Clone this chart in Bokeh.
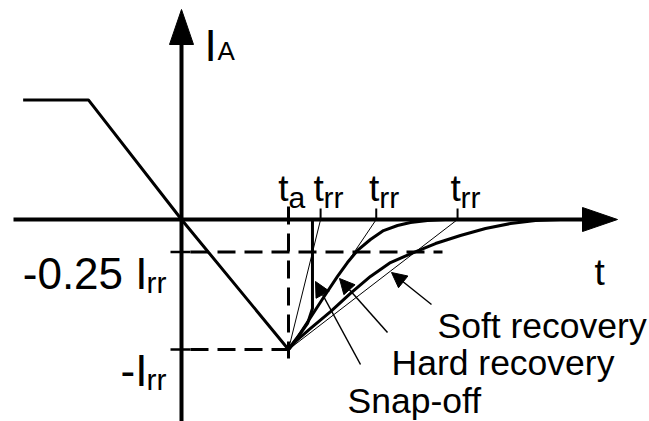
from bokeh.plotting import figure
from bokeh.models import Range1d, Arrow, NormalHead
from bokeh.core.properties import value
from bokeh.embed import file_html
from bokeh.resources import INLINE

# ---------------- data (time in units of t_a, current in units of I_rr) ----
t_a = 1.0
t_rr = [1.30, 1.82, 2.58]
I_levels = [-0.25, -1.0]
level_labels = ["-0.25 I", "-I"]

ramp_t = [-1.48, -0.87, 0.0, 1.0]
ramp_i = [0.92, 0.92, 0.0, -1.0]

soft_t = [1.000, 1.075, 1.206, 1.393, 1.579, 1.766, 1.953, 2.168, 2.374, 2.607, 2.841, 3.075, 3.308, 3.542]
soft_i = [-1.000, -0.931, -0.838, -0.708, -0.569, -0.438, -0.331, -0.254, -0.185, -0.123, -0.069, -0.031, -0.008, 0.0]

hard_t = [1.000, 1.084, 1.206, 1.327, 1.458, 1.551, 1.645, 1.766, 1.888, 2.019, 2.140, 2.299, 2.467]
hard_i = [-1.000, -0.908, -0.754, -0.600, -0.438, -0.331, -0.238, -0.154, -0.085, -0.046, -0.023, -0.008, 0.0]

snap_t = [1.000, 1.047, 1.112, 1.178, 1.224, 1.224]
snap_i = [-1.000, -0.946, -0.877, -0.800, -0.685, 0.0]

curve_names = ["Soft recovery", "Hard recovery", "Snap-off"]

# ---------------- layout --------------------------------------------------
W, H = 649, 421
PX_T, PX_I = 107.0, 130.0          # pixels per unit
OX, OY = 181, 219                  # screen position of origin
M = 0                              # observed page offset


def dt(px):
    return px / PX_T


def di(px):
    return px / PX_I


def pg(px, py):
    return (px - OX) / PX_T, (OY - py) / PX_I


FONT = value("Liberation Sans")

p = figure(width=W, height=H, output_backend="svg", toolbar_location=None,
           x_axis_type=None, y_axis_type=None, min_border=0,
           x_range=Range1d(-(OX - M) / PX_T, (W - (OX - M)) / PX_T),
           y_range=Range1d(-(H - (OY - M)) / PX_I, (OY - M) / PX_I))
p.grid.visible = False
p.outline_line_color = None
p.background_fill_color = "white"
p.border_fill_color = "white"

DASH = "18 9"
# dashed helper lines
p.line([dt(9), pg(442, 0)[0]], [I_levels[0], I_levels[0]], line_color="black",
       line_width=3, line_dash=DASH)
p.line([dt(9), t_a], [I_levels[1], I_levels[1]], line_color="black",
       line_width=3, line_dash=DASH)
p.line([t_a, t_a], [di(13), I_levels[1] - di(9)], line_color="black",
       line_width=3, line_dash=DASH)

# thin construction lines through I_rr and 0.25 I_rr
for tr in t_rr:
    p.line([t_a, tr], [I_levels[1], 0.0], line_color="black", line_width=1)

# ramp and recovery curves
p.line(ramp_t, ramp_i, line_color="black", line_width=3, line_join="round")
for ct, ci in [(soft_t, soft_i), (hard_t, hard_i), (snap_t, snap_i)]:
    p.line(ct, ci, line_color="black", line_width=3, line_join="round",
           line_cap="round")

# axes
t_left, t_tip = pg(13, 0)[0], pg(617, 0)[0]
i_bot, i_tip = pg(0, 430)[1], pg(0, 9)[1]
p.line([t_left, t_tip - dt(20)], [0, 0], line_color="black", line_width=4)
p.line([0, 0], [i_bot, i_tip - di(20)], line_color="black", line_width=4)
p.patch([t_tip, t_tip - dt(35), t_tip - dt(35)], [0, di(12), -di(12)],
        color="black")
p.patch([0, -dt(12), dt(12)], [i_tip, i_tip - di(35), i_tip - di(35)],
        color="black")

# ticks
for tr in t_rr:
    p.line([tr, tr], [0, di(11)], line_color="black", line_width=2)
for lv in I_levels:
    p.line([-dt(11), dt(9)], [lv, lv], line_color="black", line_width=2.5)


# ---------------- texts ---------------------------------------------------
def txt(x, y, s, size, align="left"):
    p.text(x=[x], y=[y], text=[s], text_font=FONT, text_font_size=size,
           text_align=align, text_baseline="alphabetic", text_color="black")


# I_A
x, y = pg(204, 45); txt(x, y, "I", "44px")
x, y = pg(217, 50); txt(x, y, "A", "26px")
# t axis label
x, y = pg(594, 272); txt(x, y, "t", "37px")
# t_a
txt(t_a, di(31), "t", "37px", "right")
txt(t_a, di(22), "a", "30px")
# t_rr
for tr in t_rr:
    txt(tr - dt(2), di(31), "t", "37px", "center")
    txt(tr + dt(3), di(22), "rr", "30px")
# level labels
for lv, lab in zip(I_levels, level_labels):
    txt(dt(147 - OX), lv - di(273 - 252), lab, "44px", "right")
    txt(dt(146 - OX), lv - di(282 - 252), "rr", "30px")

# annotation labels and arrows
label_pos = [(437, 325), (391, 362), (347, 400)]
arrow_pos = [((431, 304), (391, 272)), ((387, 332), (339, 278)),
             ((360, 364), (315, 281))]
for name, (lx, ly), (a0, a1) in zip(curve_names, label_pos, arrow_pos):
    x, y = pg(lx, ly)
    txt(x, y, name, "35.5px")
    x0, y0 = pg(*a0)
    x1, y1 = pg(*a1)
    p.add_layout(Arrow(end=NormalHead(size=15, fill_color="black",
                                      line_color="black", line_width=1),
                       x_start=x0, y_start=y0, x_end=x1, y_end=y1,
                       line_color="black", line_width=1.5))

open("out.html", "w").write(file_html(p, INLINE))
